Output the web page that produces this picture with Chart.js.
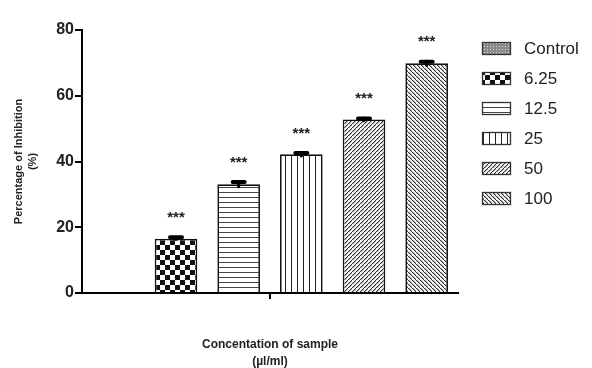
<!DOCTYPE html>
<html lang="en">
<head>
    <meta charset="UTF-8">
    <title>Percentage of Inhibition</title>
    <script src="https://cdn.jsdelivr.net/npm/chart.js"></script>
    <style>
        body {
            margin: 0;
            padding: 0;
            background-color: #fff;
        }
        #wrap {
            width: 592px;
            height: 368px;
        }
    </style>
</head>
<body>
    <div id="wrap">
        <canvas id="inhibitionChart" width="592" height="368"></canvas>
    </div>

    <script>
        // values
        const groups = ['Control', '6.25', '12.5', '25', '50', '100'];
        const inhibition = [0, 16.5, 33.1, 42.2, 52.8, 69.9];
        const sem = [0, 0.6, 0.8, 0.5, 0.4, 0.6];
        const significance = ['', '***', '***', '***', '***', '***'];
        const yTicks = [0, 20, 40, 60, 80];

        const FONT = "Arial, 'Liberation Sans', sans-serif";

        // fill patterns, one per group
        function makePattern(kind) {
            const c = document.createElement('canvas');
            const g = c.getContext('2d');
            if (kind === 'dots') {
                c.width = 3; c.height = 3;
                g.fillStyle = '#8a8a8a';
                g.fillRect(0, 0, 3, 3);
                g.fillStyle = '#d8d8d8';
                g.fillRect(1, 1, 1, 1);
            } else if (kind === 'checker') {
                c.width = 10; c.height = 10;
                g.fillStyle = '#fff';
                g.fillRect(0, 0, 10, 10);
                g.fillStyle = '#111';
                g.fillRect(0, 0, 5, 5);
                g.fillRect(5, 5, 5, 5);
            } else if (kind === 'hlines') {
                c.width = 5; c.height = 5;
                g.fillStyle = '#fff';
                g.fillRect(0, 0, 5, 5);
                g.fillStyle = '#444';
                g.fillRect(0, 2, 5, 1);
            } else if (kind === 'vlines') {
                c.width = 6; c.height = 6;
                g.fillStyle = '#fff';
                g.fillRect(0, 0, 6, 6);
                g.fillStyle = '#222';
                g.fillRect(3, 0, 1, 6);
            } else {
                c.width = 4; c.height = 4;
                g.fillStyle = '#f4f4f4';
                g.fillRect(0, 0, 4, 4);
                g.fillStyle = '#333';
                for (let i = 0; i < 4; i++) {
                    const x = kind === 'fwd' ? 3 - i : i;
                    g.fillRect(x, i, 1.4, 1);
                }
            }
            const ctx = document.getElementById('inhibitionChart').getContext('2d');
            return ctx.createPattern(c, 'repeat');
        }

        const fills = ['dots', 'checker', 'hlines', 'vlines', 'fwd', 'back'].map(makePattern);

        // error bars + asterisks above each bar
        const errorBars = {
            id: 'errorBars',
            afterDatasetsDraw(chart) {
                const ctx = chart.ctx;
                const y = chart.scales.y;
                ctx.save();
                chart.data.datasets.forEach((ds, i) => {
                    const bar = chart.getDatasetMeta(i).data[0];
                    if (!bar || !inhibition[i]) return;
                    const hi = y.getPixelForValue(inhibition[i] + sem[i]);
                    const lo = y.getPixelForValue(inhibition[i] - sem[i]);
                    ctx.strokeStyle = '#000';
                    ctx.lineWidth = 3;
                    ctx.beginPath();
                    ctx.moveTo(bar.x, hi);
                    ctx.lineTo(bar.x, lo);
                    ctx.stroke();
                    ctx.lineWidth = 4;
                    ctx.lineCap = 'round';
                    ctx.beginPath();
                    ctx.moveTo(bar.x - 6, hi + 0.5);
                    ctx.lineTo(bar.x + 6, hi + 0.5);
                    ctx.stroke();

                    ctx.fillStyle = '#222';
                    ctx.font = 'bold 15px ' + FONT;
                    ctx.textAlign = 'center';
                    ctx.textBaseline = 'middle';
                    ctx.fillText(significance[i], bar.x, hi - 19);
                });
                ctx.restore();
            }
        };

        // legend on the right, Prism style
        const sideLegend = {
            id: 'sideLegend',
            afterDraw(chart) {
                const ctx = chart.ctx;
                ctx.save();
                chart.data.datasets.forEach((ds, i) => {
                    const cy = 48 + i * 30;
                    ctx.fillStyle = ds.backgroundColor;
                    ctx.fillRect(482, cy - 6, 29, 13);
                    ctx.strokeStyle = '#333';
                    ctx.lineWidth = 1.3;
                    ctx.strokeRect(482.5, cy - 5.5, 28, 12);
                    ctx.fillStyle = '#222';
                    ctx.font = '17px ' + FONT;
                    ctx.textAlign = 'left';
                    ctx.textBaseline = 'middle';
                    ctx.fillText(ds.label, 524, cy + 1);
                });
                ctx.restore();
            }
        };

        new Chart(document.getElementById('inhibitionChart'), {
            type: 'bar',
            data: {
                labels: [''],
                datasets: groups.map((g, i) => ({
                    label: g,
                    data: [inhibition[i]],
                    backgroundColor: fills[i],
                    borderColor: '#111',
                    borderWidth: 1.7,
                    borderSkipped: 'bottom',
                    categoryPercentage: 1,
                    barPercentage: 0.68
                }))
            },
            options: {
                responsive: false,
                animation: false,
                devicePixelRatio: 1,
                layout: { padding: { left: 0, right: 134, top: 30, bottom: 0 } },
                plugins: {
                    legend: { display: false },
                    tooltip: { enabled: false }
                },
                scales: {
                    x: {
                        offset: true,
                        afterFit: s => { s.height = 75; },
                        grid: {
                            offset: false,
                            drawOnChartArea: false,
                            drawTicks: true,
                            tickLength: 6,
                            color: '#000',
                            lineWidth: 2
                        },
                        border: { color: '#000', width: 2 },
                        ticks: { display: true, font: { size: 1 } },
                        title: {
                            display: true,
                            text: ['Concentation of sample', '(µl/ml)'],
                            color: '#222',
                            font: { family: FONT, size: 12, weight: 'bold', lineHeight: 1.4 },
                            padding: { top: 0, bottom: -2 }
                        }
                    },
                    y: {
                        min: 0,
                        max: 80,
                        afterFit: s => { s.width = 82; },
                        afterBuildTicks: s => { s.ticks = yTicks.map(v => ({ value: v })); },
                        grid: {
                            drawOnChartArea: false,
                            drawTicks: true,
                            tickLength: 7,
                            color: '#000',
                            lineWidth: 2
                        },
                        border: { color: '#000', width: 2 },
                        ticks: {
                            color: '#222',
                            padding: 1,
                            font: { family: FONT, size: 16, weight: 'bold' }
                        },
                        title: {
                            display: true,
                            text: ['Percentage of Inhibition', '(%)'],
                            color: '#222',
                            font: { family: FONT, size: 11, weight: 'bold', lineHeight: 1.3 },
                            padding: { top: 12, bottom: 0 }
                        }
                    }
                }
            },
            plugins: [errorBars, sideLegend]
        });
    </script>
</body>
</html>
